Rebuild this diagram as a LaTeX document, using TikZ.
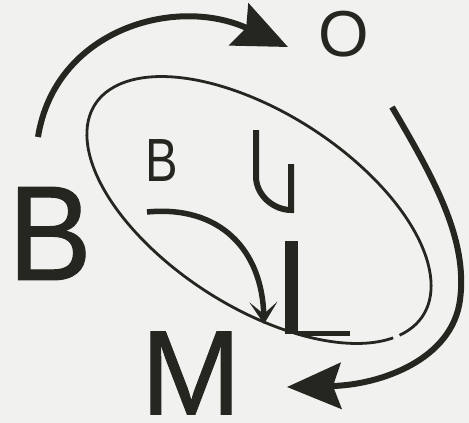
\documentclass[tikz,border=0pt]{standalone}
\usepackage{fontspec}
\setmainfont{Liberation Sans}
\newfontfamily\heavyfont[FakeBold=0.8]{Liberation Sans}
\usetikzlibrary{arrows.meta}
\definecolor{ink}{RGB}{38,38,33}
\definecolor{paper}{RGB}{241,242,239}
\tikzset{
  letter/.style={text=ink, inner sep=0pt, outer sep=0pt},
  bigarrow/.style={draw=ink, line width=6pt, -{Stealth[length=54pt,width=46pt,inset=8pt]}},
  smallarrow/.style={draw=ink, line width=5.5pt, -{Stealth[length=22pt,width=28pt,inset=12pt]}},
  ringline/.style={draw=ink, line width=2.8pt},
}
\begin{document}
\begin{tikzpicture}[x=1pt,y=-1pt]
\fill[paper] (0,0) rectangle (469,423);
\useasboundingbox (0,0) rectangle (469,423);

% letters
\node[letter, font=\heavyfont\fontsize{135}{135}\selectfont] (B) at (50,233.5) {\scalebox{0.93}[1]{B}};
\node[letter, font=\heavyfont\fontsize{120}{120}\selectfont] (M) at (191,373) {M};
\node[letter, font=\fontsize{65}{65}\selectfont] (O) at (343.5,34) {O};
\node[letter, font=\fontsize{61}{61}\selectfont] (b) at (161.5,161) {\scalebox{0.8}[1]{B}};

% ellipse with a small gap
\begin{scope}[shift={(259,210)}, rotate=-32.8]
  \draw[ringline] (21:195 and 97) arc[start angle=21, end angle=377.5, x radius=195, y radius=97];
\end{scope}

% L shape
\fill[ink] (285,241) rectangle (298,334);
\fill[ink] (298,331) rectangle (350,336);

% U shape
\draw[ink, line width=6pt] (256,130) -- (256,178) .. controls (257,196) and (274,210) .. (291,210) -- (291,164);

% connectors
\coordinate (a1s) at (38,137);
\coordinate (a1e) at (288,47);
\coordinate (a2s) at (392,107);
\coordinate (a2m) at (460,300);
\coordinate (a2e) at (287,387);
\coordinate (a3s) at (147,212);
\coordinate (a3e) at (264,324);

\draw[bigarrow] (a1s) .. controls (55,30) and (175,-5) .. (a1e);
\draw[bigarrow] (a2s) .. controls (435,180) and (468,240) .. (a2m) .. controls (452,360) and (380,385) .. (a2e);
\draw[smallarrow] (a3s) .. controls (220,205) and (262,250) .. (a3e);
\end{tikzpicture}
\end{document}
